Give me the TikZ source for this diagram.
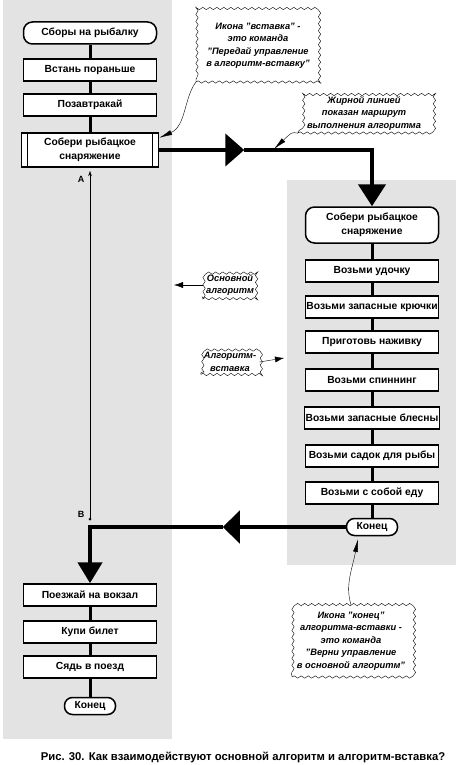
\documentclass[tikz,border=0pt]{standalone}
\usepackage{fontspec}
\setmainfont{Liberation Sans}
\usetikzlibrary{positioning, arrows.meta, decorations.pathmorphing}

\begin{document}
\begin{tikzpicture}[x=1pt, y=-1pt, node distance=36pt, on grid, auto]
    \tikzset{
        box/.style={draw, line width=1.5pt, fill=white, minimum width=133pt, minimum height=22pt,
            inner sep=1pt, align=center, font=\fontsize{10.3}{13.5}\selectfont\bfseries},
        term/.style={box, rounded corners=9pt},
        stop/.style={box, rounded corners=8pt, minimum width=51pt, minimum height=17pt},
        insert/.style={box, minimum width=137pt, minimum height=34pt, path picture={
            \draw[line width=1.5pt] ([xshift=6pt]path picture bounding box.north west) -- ([xshift=6pt]path picture bounding box.south west);
            \draw[line width=1.5pt] ([xshift=-6pt]path picture bounding box.north east) -- ([xshift=-6pt]path picture bounding box.south east);}},
        link/.style={line width=3pt},
        route/.style={line width=4.5pt},
        note/.style={draw, thin, fill=white, align=center, inner sep=3pt, decorate,
            decoration={snake, segment length=7pt, amplitude=1.2pt},
            font=\fontsize{9.3}{12.5}\selectfont\bfseries\itshape},
        pointer/.style={thin, -{Latex[length=13pt, width=5pt]}},
        sidearrow/.style={thin, -{Latex[length=9pt, width=6pt]}},
        pointlabel/.style={font=\fontsize{9}{10}\selectfont\bfseries, inner sep=0pt},
        panel/.style={fill=black!11}
    }
    \useasboundingbox (0,0) rectangle (456,765);

    % two algorithm areas
    \fill[panel] (3,0) rectangle (172,739);
    \fill[panel] (287,180) rectangle (456,565);

    % main algorithm
    \node[term] (start) at (90,33) {Сборы на рыбалку};
    \node[box] (rise) [below=37pt of start] {Встань пораньше};
    \node[box] (breakfast) [below=35pt of rise] {Позавтракай};
    \node[insert] (gather) [below=45pt of breakfast] {Собери рыбацкое\\снаряжение};

    \node[box] (station) at (90,595) {Поезжай на вокзал};
    \node[box] (ticket) [below=37pt of station] {Купи билет};
    \node[box] (train) [below=35pt of ticket] {Сядь в поезд};
    \node[stop] (end1) [below=39pt of train] {Конец};

    % inserted algorithm
    \node[term, minimum height=36pt] (gather2) at (372,225) {Собери рыбацкое\\снаряжение};
    \node[box] (rod) [below=46pt of gather2] {Возьми удочку};
    \node[box] (hooks) [below=36pt of rod] {Возьми запасные крючки};
    \node[box] (bait) [below=35pt of hooks] {Приготовь наживку};
    \node[box] (spinning) [below=38pt of bait] {Возьми спиннинг};
    \node[box] (lures) [below=38pt of spinning] {Возьми запасные блесны};
    \node[box] (keepnet) [below=38pt of lures] {Возьми садок для рыбы};
    \node[box] (food) [below=37pt of keepnet] {Возьми с собой еду};
    \node[stop] (end2) [below=34pt of food] {Конец};

    \path[link]
    (start) edge (rise)
    (rise) edge (breakfast)
    (breakfast) edge (gather)
    (station) edge (ticket)
    (ticket) edge (train)
    (train) edge (end1)
    (gather2) edge (rod)
    (rod) edge (hooks)
    (hooks) edge (bait)
    (bait) edge (spinning)
    (spinning) edge (lures)
    (lures) edge (keepnet)
    (keepnet) edge (food)
    (food) edge (end2);

    % bold route
    \coordinate[right=85pt of gather.east] (tipA);
    \draw[route, -{Triangle[length=19pt, width=32pt]}] (gather.east) -- (tipA);
    \draw[route, -{Triangle[length=22pt, width=27pt]}] (tipA) -| (gather2.north);
    \coordinate[left=123pt of end2.west] (tipB);
    \draw[route, -{Triangle[length=17pt, width=32pt]}] (end2.west) -- (tipB);
    \draw[route, -{Triangle[length=21pt, width=24pt]}] (tipB) -| (station.north);

    % points A and B
    \coordinate (ptA) at (90,171);
    \coordinate (ptB) at (90,519);
    \draw[thin, -{Stealth[length=5pt, width=3.5pt]}] (ptB) -- (ptA);
    \fill (ptB) circle (1.5pt);
    \node[pointlabel] (labelA) at ([xshift=-9pt, yshift=-8pt]ptA) {А};
    \node[pointlabel] (labelB) at ([xshift=-9pt, yshift=5pt]ptB) {В};

    % remarks
    \node[note, minimum width=124pt, minimum height=72pt] (iconNote) at (258,46)
        {Икона "вставка" -\\это команда\\"Передай управление\\в алгоритм-вставку"};
    \node[note, minimum width=132pt, minimum height=40pt] (routeNote) at (364,113)
        {Жирной линией\\показан маршрут\\выполнения алгоритма};
    \node[note] (mainNote) at (230,285) {Основной\\алгоритм};
    \node[note] (insertNote) at (230,362) {Алгоритм-\\вставка};
    \node[note, minimum width=118pt, minimum height=72pt] (endNote) at (351,641)
        {Икона "конец"\\алгоритма-вставки -\\это команда\\"Верни управление\\в основной алгоритм"};

    \coordinate (routeMark) at (274,149);
    \coordinate (endMark) at (358,539);
    \coordinate (mainSide) at (174,285);
    \coordinate (insertSide) at (284,358);
    \draw[pointer] (iconNote.south west) .. controls (184,98) and (186,126) .. (gather.10);
    \draw[pointer] (routeNote.south west) .. controls (292,132) .. (routeMark);
    \draw[pointer] (endNote.north) .. controls (345,585) and (352,570) .. (endMark);
    \draw[sidearrow] (mainNote.west) -- (mainSide);
    \draw[sidearrow] (insertNote.east) -- (insertSide);

    \node[font=\fontsize{11.3}{13}\selectfont\bfseries] (caption) at (243,757)
        {Рис. 30. Как взаимодействуют основной алгоритм и алгоритм-вставка?};
\end{tikzpicture}
\end{document}
